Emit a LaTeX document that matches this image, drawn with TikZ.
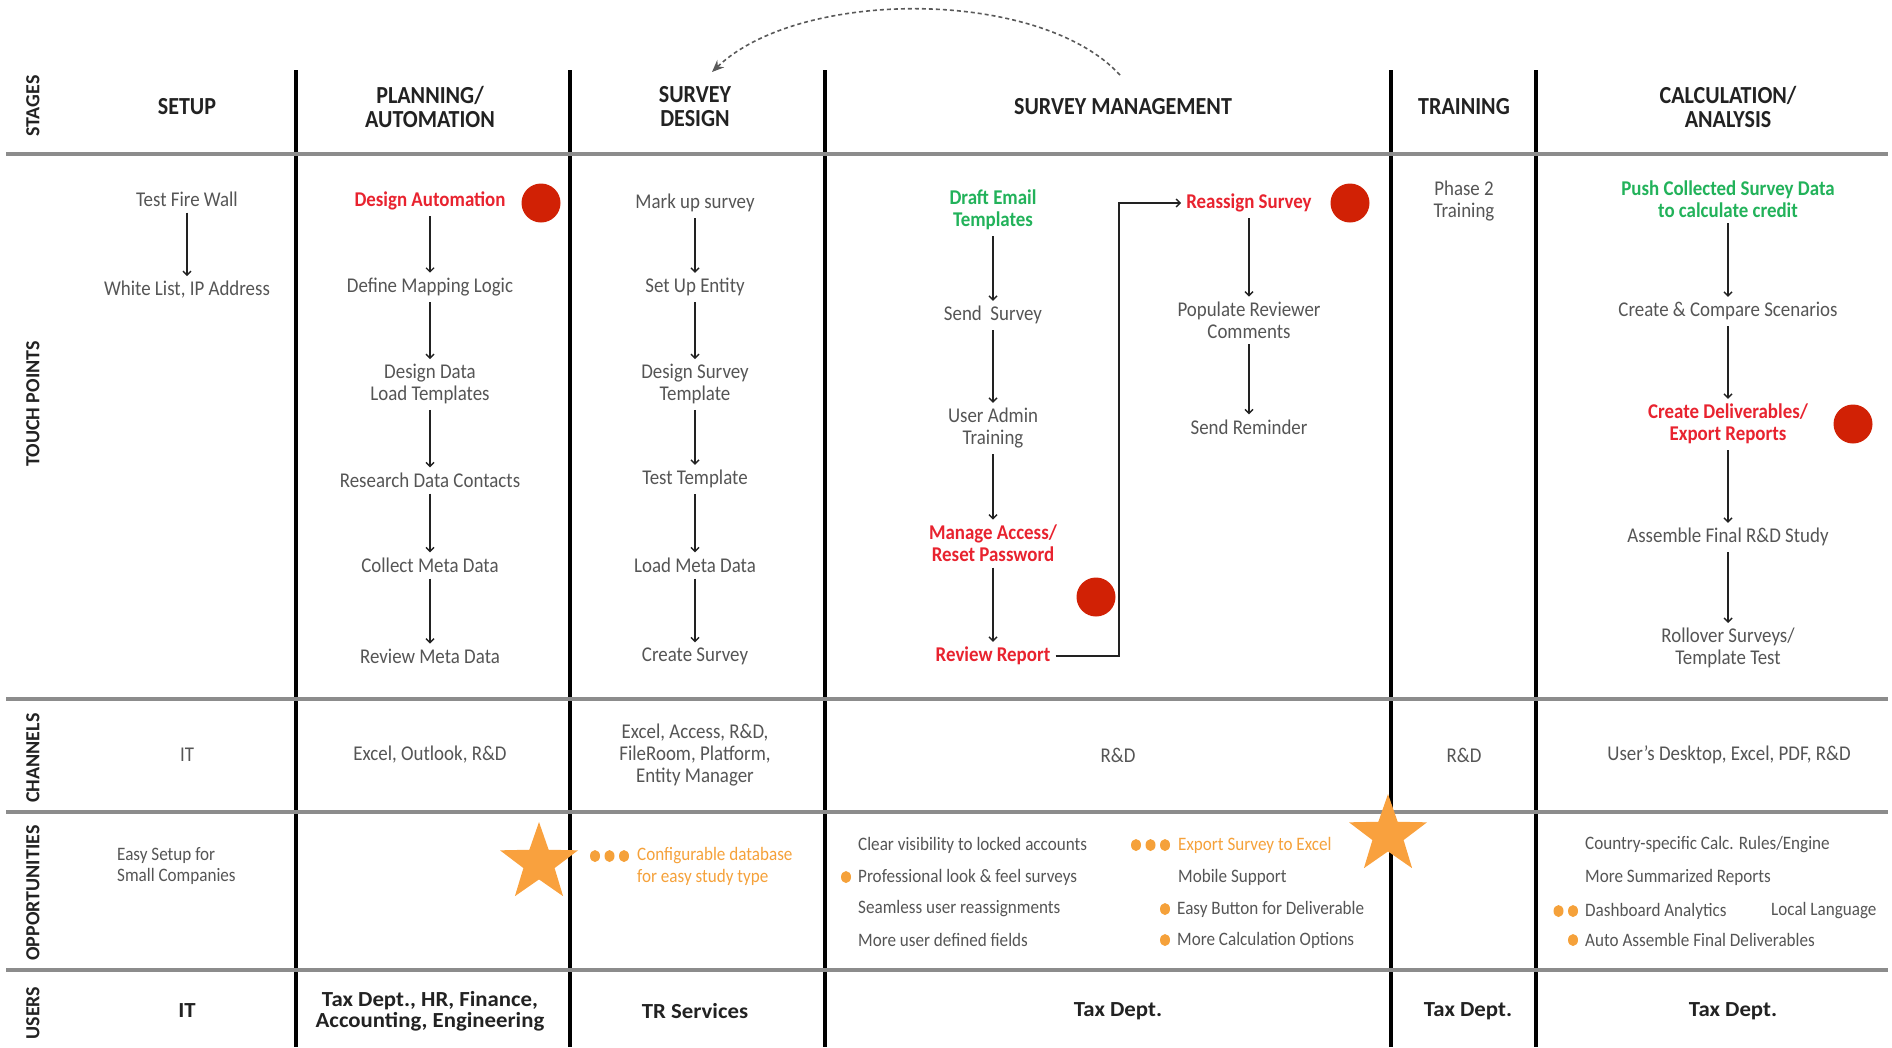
\documentclass[tikz,border=0pt]{standalone}
\usepackage{fontspec}
\setmainfont{Carlito}[FakeStretch=0.9]
\newfontfamily\usrfont{Carlito}[FakeStretch=1.06]
\newfontfamily\sidefont{Carlito}[FakeStretch=1.0]
\usetikzlibrary{arrows.meta,shapes.geometric}
\definecolor{txt}{HTML}{555555}
\definecolor{dark}{HTML}{222222}
\definecolor{redt}{HTML}{E8232F}
\definecolor{greent}{HTML}{22B25A}
\definecolor{oranget}{HTML}{F5A13A}
\definecolor{reddot}{HTML}{D12105}
\definecolor{starc}{HTML}{F9A13E}
\definecolor{hline}{HTML}{8C8C8C}
\begin{document}
\begin{tikzpicture}[x=1pt,y=-1pt,
  hdr/.style={font=\bfseries\fontsize{24.5}{24}\selectfont, text=dark, align=center},
  side/.style={font=\sidefont\bfseries\fontsize{20}{20}\selectfont, rotate=90, text=dark},
  tp/.style={font=\fontsize{21}{21.7}\selectfont, text=txt, align=center, inner sep=2pt},
  tpred/.style={tp, font=\bfseries\fontsize{21}{21.7}\selectfont, text=redt},
  tpgreen/.style={tp, font=\bfseries\fontsize{21}{21.7}\selectfont, text=greent},
  opp/.style={font=\fontsize{19}{21.7}\selectfont, text=txt, anchor=west, inner sep=0pt},
  opporange/.style={opp, text=oranget},
  usr/.style={font=\usrfont\bfseries\fontsize{21.5}{21}\selectfont, text=dark, align=center},
  flow/.style={draw=dark, line width=1.4pt, -{Straight Barb[length=4pt,width=8pt]}, shorten >=3pt, shorten <=4pt},
  hot/.style={circle, fill=reddot, minimum size=39pt, inner sep=0pt},
  starsh/.style={star, star points=5, star point ratio=2.5, fill=starc, minimum size=82pt, inner sep=0pt},
  odot/.style={fill=oranget},
  vline/.style={draw=black, line width=3.5pt},
  hrule/.style={draw=hline, line width=3.5pt},
]
\useasboundingbox (0,0) rectangle (1892,1047);
% grid lines
\foreach \x in {296,570,825,1391,1536} \draw[vline] (\x,70) -- (\x,1047);
\foreach \y in {154,699,812,970} \draw[hrule] (6,\y) -- (1888,\y);

% side labels
\node[side] (lstages) at (33,106) {STAGES};
\node[side] (ltouch) at (33,404) {TOUCH POINTS};
\node[side] (lchan) at (33,758) {CHANNELS};
\node[side] (lopp) at (33,893) {OPPORTUNITIES};
\node[side] (lusers) at (33,1013) {USERS};

% headers
\node[hdr] (hsetup) at (187,107) {SETUP};
\node[hdr] (hplan) at (430,107) {PLANNING/\\AUTOMATION};
\node[hdr] (hdesign) at (695,107) {SURVEY\\DESIGN};
\node[hdr] (hmgmt) at (1123,107) {SURVEY MANAGEMENT};
\node[hdr] (htrain) at (1464,107) {TRAINING};
\node[hdr] (hcalc) at (1728,107) {CALCULATION/\\ANALYSIS};

% dashed return arrow
\coordinate (cs) at (1120,75);
\coordinate (ce) at (712,72);
\draw[draw=black!65, line width=1.6pt, dash pattern=on 4pt off 3pt, -{Stealth[length=12pt,width=10pt]}]
  (cs) .. controls (1040,-12) and (800,-12) .. (ce);

% setup
\node[tp] (s1) at (187,199) {Test Fire Wall};
\node[tp] (s2) at (187,290) {White List, IP Address};
\draw[flow] (s1) -- (s2);

% planning
\node[tpred] (p1) at (430,201) {Design Automation};
\node[tp] (p2) at (430,287) {Define Mapping Logic};
\node[tp] (p3) at (430,384) {Design Data\\Load Templates};
\node[tp] (p4) at (430,480) {Research Data Contacts};
\node[tp] (p5) at (430,565) {Collect Meta Data};
\node[tp] (p6) at (430,656) {Review Meta Data};
\draw[flow] (p1) -- (p2);
\draw[flow] (p2) -- (p3);
\draw[flow] (p3) -- (p4);
\draw[flow] (p4) -- (p5);
\draw[flow] (p5) -- (p6);
\node[hot] (hp1) at (541,203) {};

% survey design
\node[tp] (d1) at (695,203) {Mark up survey};
\node[tp] (d2) at (695,287) {Set Up Entity};
\node[tp] (d3) at (695,384) {Design Survey\\Template};
\node[tp] (d4) at (695,479) {Test Template};
\node[tp] (d5) at (695,565) {Load Meta Data};
\node[tp] (d6) at (695,656) {Create Survey};
\draw[flow] (d1) -- (d2);
\draw[flow] (d2) -- (d3);
\draw[flow] (d3) -- (d4);
\draw[flow] (d4) -- (d5);
\draw[flow] (d5) -- (d6);

% survey management
\node[tpgreen] (m1) at (993,210) {Draft Email\\Templates};
\node[tp] (m2) at (993,315) {Send\ \ Survey};
\node[tp] (m3) at (993,428) {User Admin\\Training};
\node[tpred] (m4) at (993,543) {Manage Access/\\Reset Password};
\node[tpred] (m5) at (993,656) {Review Report};
\draw[flow] (m1) -- (m2);
\draw[flow] (m2) -- (m3);
\draw[flow] (m3) -- (m4);
\draw[flow] (m4) -- (m5);
\node[hot] (hm4) at (1096,597) {};

\node[tpred] (r1) at (1249,203) {Reassign Survey};
\node[tp] (r2) at (1249,320) {Populate Reviewer\\Comments};
\node[tp] (r3) at (1249,427) {Send Reminder};
\draw[flow] (r1) -- (r2);
\draw[flow] (r2) -- (r3);
\node[hot] (hr1) at (1350,203) {};
\coordinate (ex) at (1119,400);
\draw[draw=dark, line width=1.4pt, -{Straight Barb[length=4pt,width=8pt]}, shorten <=3pt, shorten >=3pt]
  (m5.east) -- (ex |- m5.east) -- (ex |- r1.west) -- (r1.west);

% training
\node[tp] (t1) at (1464,201) {Phase 2\\Training};

% calculation
\node[tpgreen] (c1) at (1728,199) {Push Collected Survey Data\\to calculate credit};
\node[tp] (c2) at (1728,311) {Create \& Compare Scenarios};
\node[tpred] (c3) at (1728,424) {Create Deliverables/\\Export Reports};
\node[tp] (c4) at (1728,537) {Assemble Final R\&D Study};
\node[tp] (c5) at (1728,648) {Rollover Surveys/\\Template Test};
\draw[flow] (c1) -- (c2);
\draw[flow] (c2) -- (c3);
\draw[flow] (c3) -- (c4);
\draw[flow] (c4) -- (c5);
\node[hot] (hc3) at (1853,424) {};

% channels
\node[tp] (ch1) at (187,755) {IT};
\node[tp] (ch2) at (430,755) {Excel, Outlook, R\&D};
\node[tp] (ch3) at (695,755) {Excel, Access, R\&D,\\FileRoom, Platform,\\Entity Manager};
\node[tp] (ch4) at (1118,755) {R\&D};
\node[tp] (ch5) at (1464,755) {R\&D};
\node[tp] (ch6) at (1729,755) {User's Desktop, Excel, PDF, R\&D};

% opportunities
\node[opp, align=left] (o1) at (117,866) {Easy Setup for\\Small Companies};
\node[starsh] (st1) at (539,863) {};
\node[opporange] (o2a) at (637,856) {Configurable database};
\node[opporange] (o2b) at (637,877) {for easy study type};
\foreach \d in {13,27.5,42} \fill[odot] ([xshift=-\d pt]o2a.west) ellipse (5pt and 6pt);

\node[opp] (o3) at (858,845) {Clear visibility to locked accounts};
\node[opp] (o4) at (858,877) {Professional look \& feel surveys};
\node[opp] (o5) at (858,909) {Seamless user reassignments};
\node[opp] (o6) at (858,940) {More user defined fields};
\fill[odot] ([xshift=-12pt]o4.west) ellipse (5pt and 6pt);

\node[opporange] (o7) at (1178,845) {Export Survey to Excel};
\node[opp] (o8) at (1178,877) {Mobile Support};
\node[opp] (o9) at (1177,909) {Easy Button for Deliverable};
\node[opp] (o10) at (1177,940) {More Calculation Options};
\foreach \d in {13,27.5,42} \fill[odot] ([xshift=-\d pt]o7.west) ellipse (5pt and 6pt);
\fill[odot] ([xshift=-12pt]o9.west) ellipse (5pt and 6pt);
\fill[odot] ([xshift=-12pt]o10.west) ellipse (5pt and 6pt);
\node[starsh] (st2) at (1388,835) {};

\node[opp] (o11) at (1585,845) {Country-specific Calc. Rules/Engine};
\node[opp] (o12) at (1585,877) {More Summarized Reports};
\node[opp] (o13) at (1585,911) {Dashboard Analytics};
\node[opp] (o14) at (1771,911) {Local Language};
\node[opp] (o15) at (1585,940) {Auto Assemble Final Deliverables};
\foreach \d in {12,26.5} \fill[odot] ([xshift=-\d pt]o13.west) ellipse (5pt and 6pt);
\fill[odot] ([xshift=-12pt]o15.west) ellipse (5pt and 6pt);

% users
\node[usr] (u1) at (187,1011) {IT};
\node[usr] (u2) at (430,1011) {Tax Dept., HR, Finance,\\Accounting, Engineering};
\node[usr] (u3) at (695,1011) {TR Services};
\node[usr] (u4) at (1118,1011) {Tax Dept.};
\node[usr] (u5) at (1468,1011) {Tax Dept.};
\node[usr] (u6) at (1733,1011) {Tax Dept.};
\end{tikzpicture}
\end{document}
